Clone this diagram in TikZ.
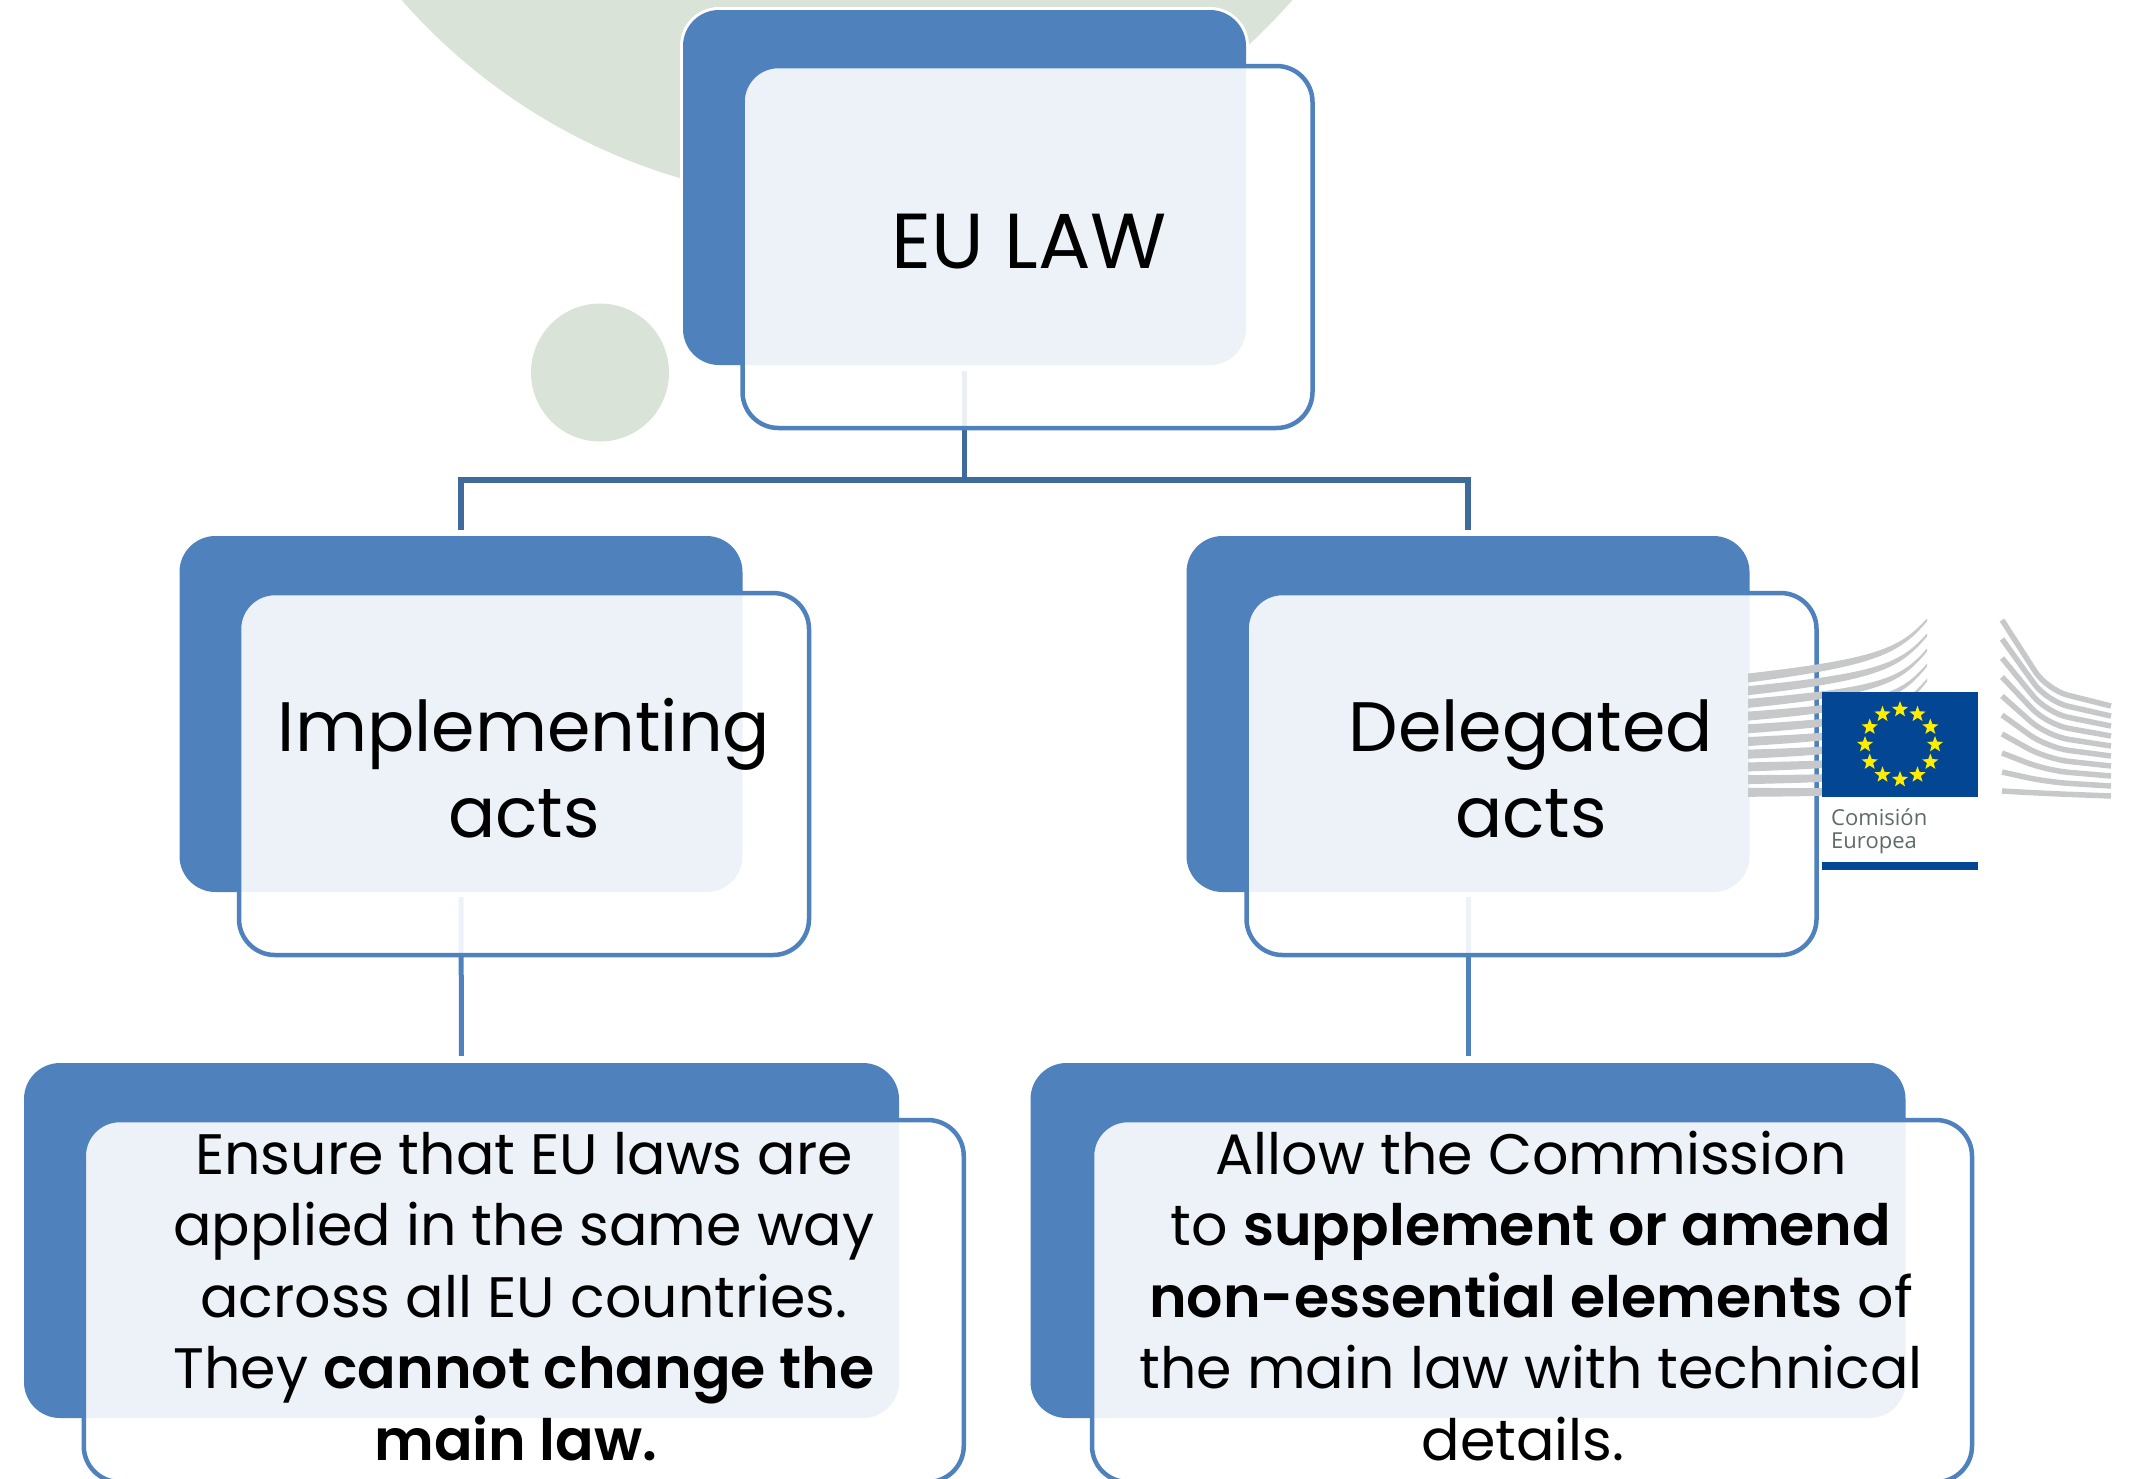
\documentclass[tikz,border=0pt]{standalone}
\usepackage{fontspec}
\setmainfont{Poppins}[BoldFont=* SemiBold]
\newfontfamily\logofont{Open Sans}
\usetikzlibrary{shapes.geometric,calc}
\definecolor{sage}{HTML}{DAE3D8}
\definecolor{boxblue}{HTML}{4F81BD}
\definecolor{treeblue}{HTML}{3F6A9C}
\definecolor{eublue}{HTML}{034694}
\definecolor{eustar}{HTML}{FFED00}
\definecolor{strip}{HTML}{C6C8CA}
\definecolor{logotext}{HTML}{5F6B6B}
\tikzset{
  backbox/.style={rectangle,rounded corners=36pt,inner sep=0pt,fill=boxblue,
    preaction={draw=white,line width=6pt}},
  frontbox/.style={rectangle,rounded corners=36pt,inner sep=0pt,draw=boxblue,line width=4.5pt,
    fill=white,fill opacity=.9},
  tree/.style={draw=treeblue,line width=5.5pt},
  down/.style={draw=boxblue,line width=5pt},
  titletext/.style={font=\fontsize{78}{86}\selectfont,align=center,inner sep=0pt,text=black},
  headtext/.style={font=\fontsize{70}{86}\selectfont,align=center,inner sep=0pt,text=black},
  bodytext/.style={font=\fontsize{57}{71.5}\selectfont,align=center,inner sep=0pt,text=black},
  eustarnode/.style={star,star points=5,star point ratio=2.4,fill=eustar,minimum size=17pt,inner sep=0pt},
  stripline/.style={draw=strip,line width=5.5pt},
  logolabel/.style={font=\logofont\fontsize{22}{23}\selectfont,text=logotext,align=left,inner sep=0pt},
}
\begin{document}
\begin{tikzpicture}[x=1pt,y=-1pt]
\useasboundingbox (0,0) rectangle (2132,1478);
\clip (0,0) rectangle (2132,1478);
\fill[sage] (847,-390) circle[radius=592];
\fill[sage] (600,372.5) circle[radius=69];

\node[backbox,minimum width=563pt,minimum height=355pt] (blue1) at (964.5,187.5) {};
\node[backbox,minimum width=563pt,minimum height=356pt] (blue2) at (461,714) {};
\node[backbox,minimum width=563pt,minimum height=356pt] (blue3) at (1468,714) {};
\node[backbox,minimum width=875pt,minimum height=355pt] (blue4) at (461.5,1240.5) {};
\node[backbox,minimum width=875pt,minimum height=355pt] (blue5) at (1468,1240.5) {};

\coordinate (junction) at (blue1.south |- 0,480);
\draw[tree,shorten <=6pt] (blue1.south) -- (junction);
\draw[tree,shorten <=6pt,line join=miter] (blue2.north) |- (junction);
\draw[tree,shorten <=6pt,line join=miter] (blue3.north) |- (junction);
\draw[down,shorten <=5pt,shorten >=7pt] (blue2.south) -- (blue4.north);
\draw[down,shorten <=5pt,shorten >=7pt] (blue3.south) -- (blue5.north);

\node[frontbox,minimum width=570pt,minimum height=362pt] (front1) at (1027.5,247) {};
\node[frontbox,minimum width=570pt,minimum height=362pt] (front2) at (524,774) {};
\node[frontbox,minimum width=570pt,minimum height=362pt] (front3) at (1531.5,774) {};
\node[frontbox,minimum width=880pt,minimum height=362pt] (front4) at (523.75,1301) {};
\node[frontbox,minimum width=880pt,minimum height=362pt] (front5) at (1532,1301) {};

\node[titletext,anchor=base] (t1) at (1029,268) {EU LAW};
\node[headtext,anchor=base] (t2) at (524,837) {Implementing\\acts};
\node[headtext,anchor=base] (t3) at (1531,837) {Delegated\\acts};
\node[bodytext,anchor=base] (t4) at (524,1460) {Ensure that EU laws are\\applied in the same way\\across all EU countries.\\They \textbf{cannot change the}\\\textbf{main law.}\hspace*{16pt}};
\node[bodytext,anchor=base] (t5) at (1531,1460) {Allow the Commission\\to \textbf{supplement or amend}\\\textbf{non-essential elements} of\\the main law with technical\\details.\hspace*{16pt}};

% logo
\foreach \i in {0,...,9}{
  \pgfmathsetmacro\ya{678+12.7*\i}
  \pgfmathsetmacro\yb{\ya-16*(1-\i/9)}
  \pgfmathsetmacro\yc{\ya-28*(1-\i/9)}
  \pgfmathsetmacro\ye{620+15*\i}
  \fill[strip] (1748,\ya-4.5) .. controls (1880,\yb-3.5) and (1900,\yc-2.5) .. (1927,\ye-1.5)
    -- (1927,\ye+1.5) .. controls (1900,\yc+2.5) and (1880,\yb+3.5) .. (1748,\ya+4.5) -- cycle;
  \pgfmathsetmacro\yl{620+19*\i}
  \pgfmathsetmacro\yr{706+10*\i}
  \pgfmathsetmacro\ym{690+11.5*\i}
  \draw[stripline,rounded corners=22pt] (2002,\yl) -- (2047,\ym) -- (2111,\yr);
}
\node[rectangle,fill=eublue,minimum width=156pt,minimum height=105pt,inner sep=0pt] (flag) at (1900,744.5) {};
\fill[white] (flag.south west) rectangle (1978,862);
\foreach \a in {0,30,...,330}{
  \node[eustarnode] (star\a) at ($(flag.center)+(\a:35)$) {};
}
\node[logolabel,anchor=base west] (comision) at (1831,848) {Comisión\\Europea};
\fill[eublue] (1822,862) rectangle (1978,870);
\end{tikzpicture}
\end{document}
